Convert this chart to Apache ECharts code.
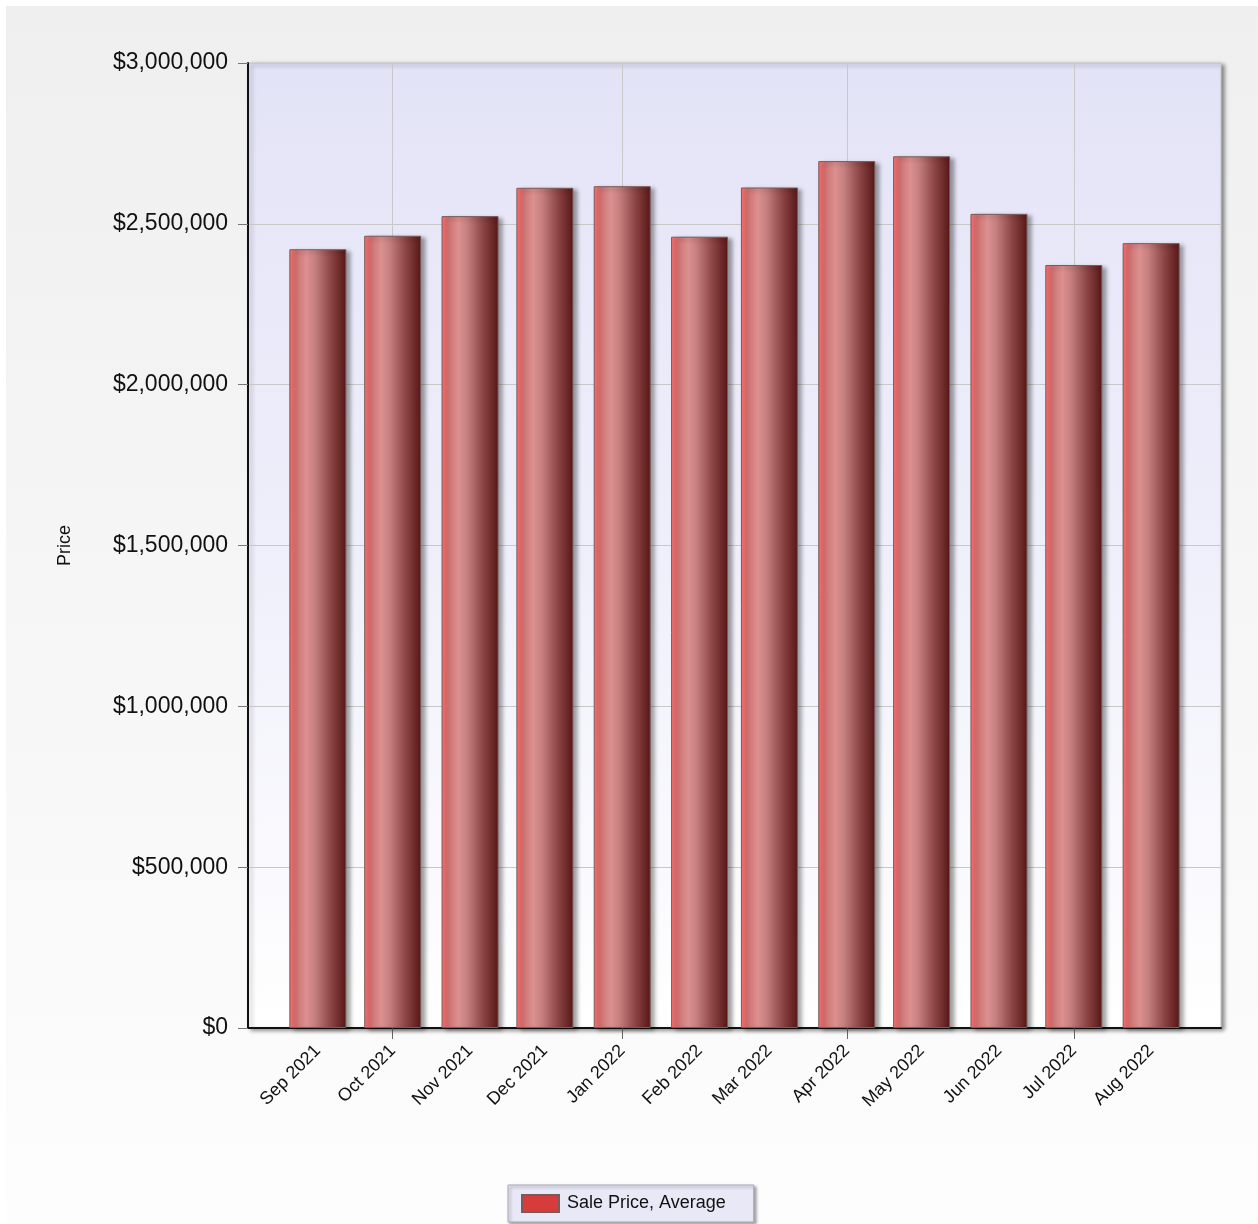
<!DOCTYPE html>
<html>
<head>
<meta charset="utf-8">
<script src="https://cdn.jsdelivr.net/npm/echarts@6/dist/echarts.min.js"></script>
<style>
html,body{margin:0;padding:0;background:#ffffff;}
#chart{position:absolute;left:6px;top:6px;width:1252px;height:1218px;}
</style>
</head>
<body>
<div id="chart"></div>
<script>
// Data
const monthDates = ['2021-09-01','2021-10-01','2021-11-01','2021-12-01','2022-01-01','2022-02-01',
                    '2022-03-01','2022-04-01','2022-05-01','2022-06-01','2022-07-01','2022-08-01'];
const monthLabels = ['Sep 2021','Oct 2021','Nov 2021','Dec 2021','Jan 2022','Feb 2022',
                     'Mar 2022','Apr 2022','May 2022','Jun 2022','Jul 2022','Aug 2022'];
const salePriceAvg = [2421000, 2463000, 2524000, 2612000, 2617000, 2460000,
                      2613000, 2695000, 2710000, 2531000, 2372000, 2440000];
const seriesName = 'Sale Price, Average';
const yTicks = [0, 500000, 1000000, 1500000, 2000000, 2500000, 3000000];
const axisStart = '2021-08-04';
const axisEnd = '2022-08-29';

// Daily time domain for the x axis (category per day)
function buildDays(a, b) {
  const out = [];
  let d = new Date(a + 'T00:00:00Z');
  const end = new Date(b + 'T00:00:00Z');
  while (d <= end) {
    out.push(d.toISOString().slice(0, 10));
    d = new Date(d.getTime() + 86400000);
  }
  return out;
}
const days = buildDays(axisStart, axisEnd);
const labelMap = {};
monthDates.forEach((m, i) => { labelMap[m] = monthLabels[i]; });
const isMonthStart = (v) => labelMap[v] !== undefined;
const isQuarterStart = (v) => v.endsWith('-01') && ['01','04','07','10'].includes(v.slice(5, 7));

const chart = echarts.init(document.getElementById('chart'), null, {renderer: 'canvas'});
const font = 'Liberation Sans, Arial, sans-serif';

const barColor = new echarts.graphic.LinearGradient(0, 0, 1, 0, [
  {offset: 0, color: '#f77474'},
  {offset: 0.07, color: '#ec6c6c'},
  {offset: 0.13, color: '#cf7474'},
  {offset: 0.3, color: '#dc9090'},
  {offset: 0.45, color: '#c67f7f'},
  {offset: 0.72, color: '#8e4646'},
  {offset: 1, color: '#561616'}
]);

chart.setOption({
  backgroundColor: new echarts.graphic.LinearGradient(0, 0, 0, 1, [
    {offset: 0, color: '#efefef'},
    {offset: 1, color: '#fdfdfd'}
  ]),
  animation: false,
  textStyle: {fontFamily: font},
  grid: {
    left: 242, top: 57, right: 37, bottom: 196,
    show: true,
    backgroundColor: new echarts.graphic.LinearGradient(0, 0, 0, 1, [
      {offset: 0, color: '#e3e3f7'},
      {offset: 0.5, color: '#efeffb'},
      {offset: 1, color: '#ffffff'}
    ]),
    borderWidth: 1,
    borderColor: '#c8c8c8',
    shadowColor: 'rgba(0,0,0,0.45)',
    shadowBlur: 4,
    shadowOffsetX: 3,
    shadowOffsetY: 2
  },
  legend: {
    bottom: 2,
    left: 502,
    icon: 'rect',
    data: [{name: seriesName, itemStyle: {color: '#d63c3c'}}],
    itemWidth: 37,
    itemHeight: 17,
    itemGap: 10,
    padding: [9, 28, 9, 13],
    backgroundColor: '#e8e8f7',
    borderColor: '#a8a8b8',
    borderWidth: 1,
    shadowColor: 'rgba(0,0,0,0.35)',
    shadowBlur: 3,
    shadowOffsetX: 2,
    shadowOffsetY: 2,
    textStyle: {fontSize: 18, color: '#111', fontFamily: font, padding: [0, 0, 0, 3]},
    selectedMode: false
  },
  xAxis: {
    type: 'category',
    data: days,
    boundaryGap: false,
    axisLine: {show: true, lineStyle: {color: '#111', width: 2}},
    axisTick: {
      show: true, length: 11,
      interval: (i, v) => isQuarterStart(v),
      lineStyle: {color: '#666', width: 1}
    },
    axisLabel: {
      interval: (i, v) => isMonthStart(v),
      formatter: (v) => labelMap[v] || '',
      rotate: 45,
      margin: 20,
      fontSize: 18,
      color: '#111',
      fontFamily: font
    },
    splitLine: {
      show: true,
      interval: (i, v) => isQuarterStart(v),
      lineStyle: {color: '#c8c8c8', width: 1}
    }
  },
  yAxis: {
    type: 'value',
    min: 0,
    max: 3000000,
    interval: 500000,
    name: 'Price',
    nameLocation: 'middle',
    nameGap: 174,
    nameRotate: 90,
    nameTextStyle: {fontSize: 18, color: '#111', fontFamily: font},
    axisLine: {show: true, lineStyle: {color: '#111', width: 2}},
    axisTick: {show: true, length: 10, lineStyle: {color: '#777'}},
    axisLabel: {
      margin: 20,
      fontSize: 23,
      color: '#111',
      fontFamily: font,
      formatter: (v) => yTicks.includes(v) ? '$' + v.toLocaleString('en-US') : ''
    },
    splitLine: {show: true, lineStyle: {color: '#c8c8c8', width: 1}}
  },
  series: [{
    name: seriesName,
    type: 'bar',
    barWidth: 57,
    data: monthDates.map((d, i) => [d, salePriceAvg[i]]),
    itemStyle: {
      color: barColor,
      borderColor: '#7a5a5a',
      borderWidth: 1,
      shadowColor: 'rgba(0,0,0,0.35)',
      shadowBlur: 4,
      shadowOffsetX: 4,
      shadowOffsetY: 2
    }
  }]
});
</script>
</body>
</html>
